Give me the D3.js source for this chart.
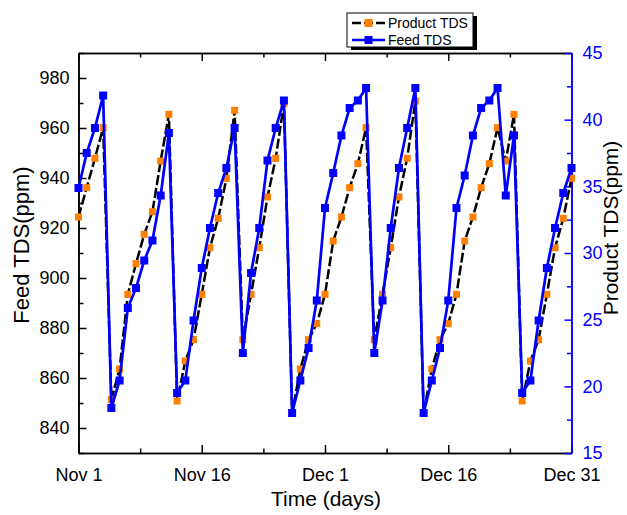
<!DOCTYPE html>
<html>
<head>
<meta charset="utf-8">
<script src="https://cdn.jsdelivr.net/npm/d3@7"></script>
<style>
  body { margin: 0; background: #fff; }
  text { font-family: "Liberation Sans", Arial, sans-serif; }
</style>
</head>
<body>
<svg id="chart" width="627" height="515"></svg>
<script>
// Daily readings, Nov 1 .. Dec 31
const startDate = new Date(2012, 10, 1);
const feedTDS = [936, 950, 960, 973, 848, 859, 888, 896, 907, 915, 933, 958,
  854, 859, 883, 904, 920, 934, 944, 960, 870, 902, 920, 947, 960, 971,
  846, 859, 872, 891, 928, 942, 957, 968, 971, 976, 870, 891, 920, 944, 960, 976,
  846, 859, 872, 891, 928, 941, 957, 968, 971, 976, 933, 957,
  854, 859, 883, 904, 920, 934, 944];
const productTDS = [32.7, 34.9, 37.1, 39.4, 19.0, 21.3, 26.9, 29.2, 31.4, 33.1, 36.9, 40.4,
  18.9, 21.9, 23.5, 26.9, 30.4, 32.6, 35.6, 40.7, 23.5, 26.9, 30.4, 34.2, 37.1, 41.2,
  18.0, 21.3, 23.5, 24.7, 26.9, 30.9, 32.7, 34.9, 36.7, 39.4, 23.5, 26.9, 30.4, 34.2, 37.1, 41.4,
  18.0, 21.3, 23.5, 24.7, 26.9, 30.9, 32.7, 34.9, 36.7, 39.4, 36.9, 40.4,
  18.9, 21.9, 23.5, 26.9, 30.4, 32.6, 35.6];
const xTickLabels = ["Nov 1", "Nov 16", "Dec 1", "Dec 16", "Dec 31"];
const xTickDays = [0, 15, 30, 45, 60];
const feedTicks = [840, 860, 880, 900, 920, 940, 960, 980];
const productTicks = [15, 20, 25, 30, 35, 40, 45];

const blue = "#0000ff", orange = "#ff8000";
const plotLeft = 78.5, plotRight = 571.5, plotTop = 53, plotBottom = 453;

const svg = d3.select("#chart");
const dates = feedTDS.map((_, i) => d3.timeDay.offset(startDate, i));
const tickDates = xTickDays.map(d => d3.timeDay.offset(startDate, d));
const minorDates = xTickDays.slice(1).map(d => d3.timeHour.offset(startDate, (d - 7.5) * 24));

const x = d3.scaleTime().domain([startDate, d3.timeDay.offset(startDate, 60)]).range([plotLeft, plotRight]);
const yFeed = d3.scaleLinear().domain([830, 990]).range([plotBottom, plotTop]);
const yProd = d3.scaleLinear().domain([15, 45]).range([plotBottom, plotTop]);

function styleAxis(g, color) {
  g.selectAll("path,line").attr("stroke", color).attr("stroke-width", 1.5);
  g.selectAll("text").attr("fill", color).style("font-size", "18px");
}

// minor ticks first, then majors
svg.append("g").attr("transform", `translate(0,${plotBottom})`)
  .call(d3.axisBottom(x).tickValues(minorDates).tickSize(-4.5).tickFormat("").tickSizeOuter(0))
  .call(g => styleAxis(g, "#000"));
svg.append("g").attr("transform", `translate(0,${plotBottom})`)
  .call(d3.axisBottom(x).tickValues(tickDates).tickSize(-8).tickPadding(15).tickSizeOuter(0)
    .tickFormat((d, i) => xTickLabels[i]))
  .call(g => styleAxis(g, "#000"));
svg.append("g").attr("transform", `translate(0,${plotTop})`)
  .call(d3.axisTop(x).tickValues(minorDates).tickSize(-4.5).tickFormat("").tickSizeOuter(0))
  .call(g => styleAxis(g, "#000"));
svg.append("g").attr("transform", `translate(0,${plotTop})`)
  .call(d3.axisTop(x).tickValues(tickDates).tickSize(-8).tickFormat("").tickSizeOuter(0))
  .call(g => styleAxis(g, "#000"));

svg.append("g").attr("transform", `translate(${plotLeft},0)`)
  .call(d3.axisLeft(yFeed).tickValues(feedTicks.map(v => v + 10).concat([830])).tickSize(-5).tickFormat("").tickSizeOuter(0))
  .call(g => styleAxis(g, "#000"));
svg.append("g").attr("transform", `translate(${plotLeft},0)`)
  .call(d3.axisLeft(yFeed).tickValues(feedTicks).tickSize(-8).tickPadding(9).tickSizeOuter(0))
  .call(g => styleAxis(g, "#000"));

svg.append("g").attr("transform", `translate(${plotRight},0)`)
  .call(d3.axisRight(yProd).tickValues(productTicks.slice(1).map(v => v - 2.5)).tickSize(-4.5).tickFormat("").tickSizeOuter(0))
  .call(g => styleAxis(g, blue));
svg.append("g").attr("transform", `translate(${plotRight},0)`)
  .call(d3.axisRight(yProd).tickValues(productTicks).tickSize(-7).tickPadding(11).tickSizeOuter(0))
  .call(g => styleAxis(g, blue));

// product series: black dashed line, orange squares
const prodLine = d3.line().x((d, i) => x(dates[i])).y(d => yProd(d));
svg.append("path").datum(productTDS)
  .attr("fill", "none").attr("stroke", "#000").attr("stroke-width", 2.5)
  .attr("stroke-dasharray", "10,3").attr("d", prodLine);
svg.append("g").selectAll("rect").data(productTDS).join("rect")
  .attr("x", (d, i) => x(dates[i]) - 3.5).attr("y", d => yProd(d) - 3.5)
  .attr("width", 7).attr("height", 7).attr("fill", orange);

// feed series: blue line, blue squares
const feedLine = d3.line().x((d, i) => x(dates[i])).y(d => yFeed(d));
svg.append("path").datum(feedTDS)
  .attr("fill", "none").attr("stroke", blue).attr("stroke-width", 2.7).attr("d", feedLine);
svg.append("g").selectAll("rect").data(feedTDS).join("rect")
  .attr("x", (d, i) => x(dates[i]) - 4).attr("y", d => yFeed(d) - 4)
  .attr("width", 8).attr("height", 8).attr("fill", blue);

// axis titles
svg.append("text").attr("transform", "translate(29,245) rotate(-90)")
  .attr("text-anchor", "middle").style("font-size", "22px").text("Feed TDS(ppm)");
svg.append("text").attr("transform", "translate(618,228) rotate(-90)")
  .attr("text-anchor", "middle").style("font-size", "21px").text("Product TDS(ppm)");
svg.append("text").attr("x", 326).attr("y", 506)
  .attr("text-anchor", "middle").style("font-size", "21px").text("Time (days)");

// legend
const legend = svg.append("g").attr("transform", "translate(347,13)");
legend.append("rect").attr("x", 4).attr("y", 3).attr("width", 126).attr("height", 34).attr("fill", "#000");
legend.append("rect").attr("width", 126).attr("height", 34).attr("fill", "#fff").attr("stroke", "#000");
const items = [
  { label: "Product TDS", line: "#000", dash: "9,3", mark: orange, y: 10 },
  { label: "Feed TDS", line: blue, dash: null, mark: blue, y: 27 }
];
items.forEach(it => {
  legend.append("line").attr("x1", 5).attr("x2", 38).attr("y1", it.y).attr("y2", it.y)
    .attr("stroke", it.line).attr("stroke-width", 2.5).attr("stroke-dasharray", it.dash);
  legend.append("rect").attr("x", 17.5).attr("y", it.y - 4).attr("width", 8).attr("height", 8).attr("fill", it.mark);
  legend.append("text").attr("x", 41).attr("y", it.y).attr("dy", "0.36em")
    .style("font-size", "14px").text(it.label);
});
</script>
</body>
</html>
